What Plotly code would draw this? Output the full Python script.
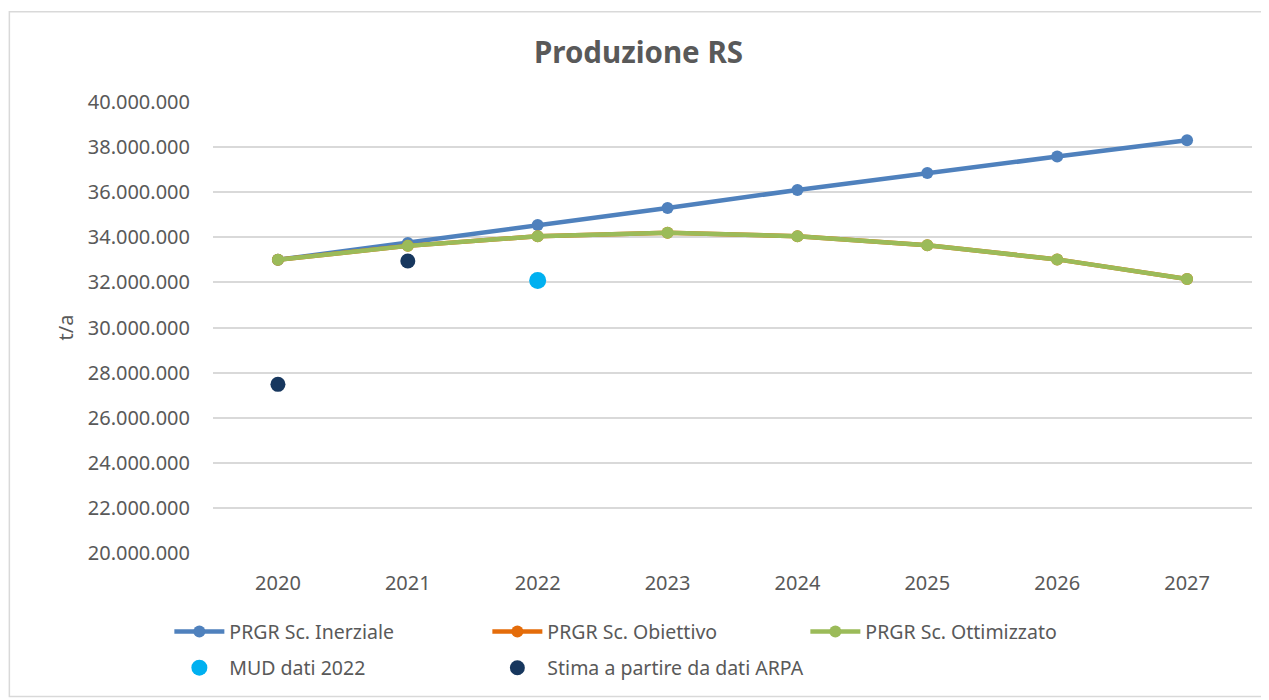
import plotly.graph_objects as go

years = ["2020", "2021", "2022", "2023", "2024", "2025", "2026", "2027"]

inerziale = [33000000, 33750000, 34550000, 35300000, 36100000, 36850000, 37580000, 38300000]
obiettivo = [33000000, 33620000, 34050000, 34200000, 34050000, 33650000, 33020000, 32150000]
ottimizzato = [33000000, 33620000, 34050000, 34200000, 34050000, 33650000, 33020000, 32150000]

mud_years = ["2022"]
mud_values = [32080000]

stima_years = ["2020", "2021"]
stima_values = [27480000, 32950000]

FONT = "Noto Sans"
GREY = "#595959"

fig = go.Figure()

line_series = [
    ("PRGR Sc. Inerziale", inerziale, "#4f81bd"),
    ("PRGR Sc. Obiettivo", obiettivo, "#e46c0a"),
    ("PRGR Sc. Ottimizzato", ottimizzato, "#9bbb59"),
]
for name, vals, col in line_series:
    fig.add_trace(go.Scatter(
        x=years, y=vals, name=name, mode="lines+markers",
        line=dict(color=col, width=4.5),
        marker=dict(color=col, size=12),
        legend="legend",
    ))

fig.add_trace(go.Scatter(
    x=mud_years, y=mud_values, name="MUD dati 2022", mode="markers",
    marker=dict(color="#00b0f0", size=17),
    legend="legend2",
))
fig.add_trace(go.Scatter(
    x=stima_years, y=stima_values, name="Stima a partire da dati ARPA", mode="markers",
    marker=dict(color="#17375e", size=15),
    legend="legend2",
))

H = 692
# page body adds an 8px offset, so the figure is a bit smaller
fig.update_layout(
    width=1261, height=H,
    margin=dict(l=205, r=17, t=94, b=147),
    paper_bgcolor="white", plot_bgcolor="white",
    font=dict(family=FONT, size=20, color=GREY),
    separators=",.",
    title=dict(text="<b>Produzione RS</b>", x=0.5, xanchor="center",
               xref="container", y=(H - 45) / H, yanchor="middle",
               font=dict(family=FONT, size=29.5, color=GREY)),
    legend=dict(orientation="h", x=-0.042, xanchor="left",
                y=-0.175, yanchor="middle",
                entrywidth=253, entrywidthmode="pixels", itemwidth=50,
                font=dict(family=FONT, size=19.5, color=GREY)),
    legend2=dict(orientation="h", x=-0.042, xanchor="left",
                 y=-0.255, yanchor="middle",
                 entrywidth=253, entrywidthmode="pixels", itemwidth=50,
                 font=dict(family=FONT, size=19.5, color=GREY)),
    shapes=[dict(type="rect", xref="paper", yref="paper",
                 x0=-0.196, x1=1.01, y0=-0.318, y1=1.2,
                 line=dict(color="#d9d9d9", width=1.5), layer="below")],
)

fig.update_xaxes(
    type="category", range=[-0.5, 7.5],
    showgrid=False, showline=False, ticks="", zeroline=False,
    ticklabelstandoff=16,
    tickfont=dict(family=FONT, size=20, color=GREY),
)
fig.update_yaxes(
    range=[20000000, 40000000], dtick=2000000, tickformat=",d",
    showgrid=True, gridcolor="#d9d9d9", gridwidth=1.5, zeroline=False,
    showline=False, ticks="", ticklabelstandoff=22,
    tickfont=dict(family=FONT, size=20, color=GREY),
    title=dict(text="t/a", font=dict(family=FONT, size=20, color=GREY), standoff=8),
)

fig.write_html("out.html")
